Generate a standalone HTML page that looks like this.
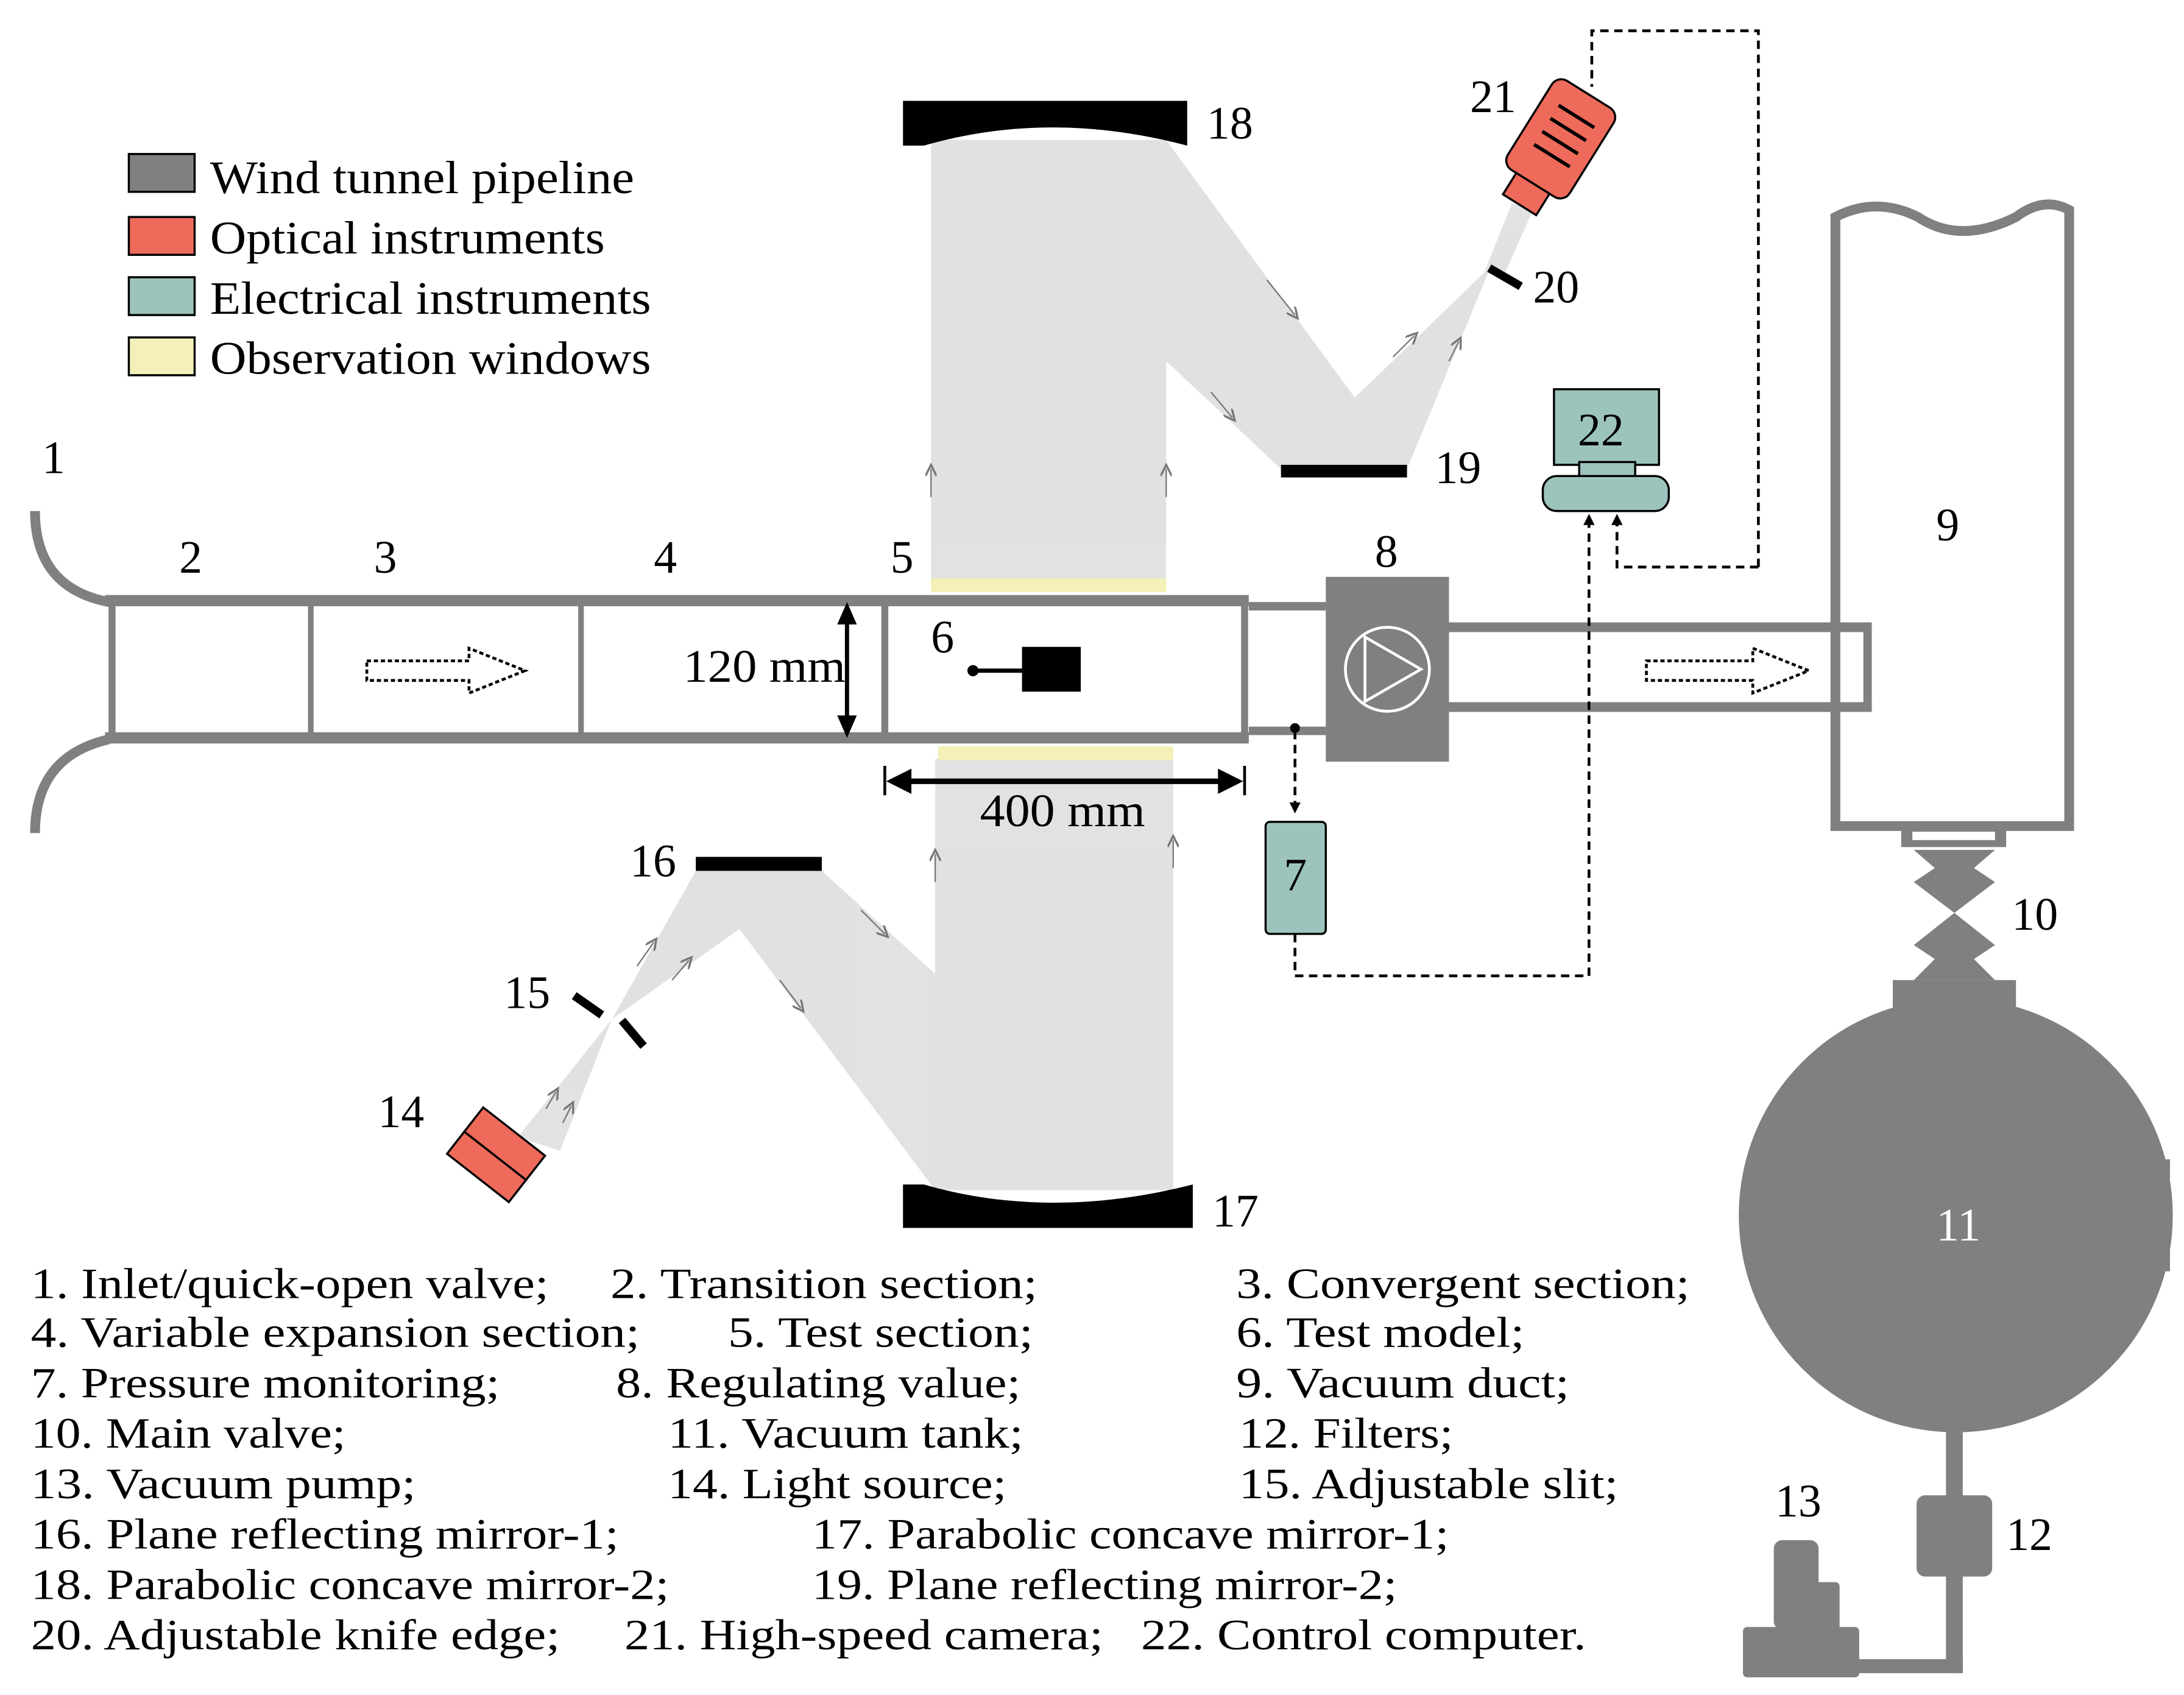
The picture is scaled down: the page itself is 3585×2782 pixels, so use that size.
<!DOCTYPE html>
<html><head><meta charset="utf-8"><style>html,body{margin:0;padding:0;background:#fff}svg{display:block}</style></head><body>
<svg width="3585" height="2782" viewBox="0 0 1560 1210.6" xmlns="http://www.w3.org/2000/svg" font-family="'Liberation Serif', serif">
<defs>
<marker id="ah" markerWidth="8" markerHeight="8" refX="7" refY="4" orient="auto" markerUnits="userSpaceOnUse"><path d="M0,0 L8,4 L0,8 z" fill="#000"/></marker>
<marker id="ga" markerWidth="10" markerHeight="8" refX="5" refY="4" orient="auto" markerUnits="userSpaceOnUse"><path d="M0,0 L8,4 L0,8" fill="none" stroke="#777" stroke-width="1.5"/></marker>
</defs>
<g fill="#d8d8d8" opacity="0.75">
<rect x="665" y="100" width="168" height="315"/>
<polygon points="665,100 833,100 1005,335 915,335"/>
<polygon points="915,335 1005,335 1065,190"/>
<polygon points="1060,195 1075,195 1095,150 1080,145"/>
<rect x="668" y="542" width="170" height="308"/>
<polygon points="497,622 587,622 838,850 668,850"/>
<polygon points="437,728 497,622 587,622"/>
<polygon points="437,728 370,812 400,822"/>
</g>
<g stroke="#777" stroke-width="1" marker-end="url(#ga)">
<line x1="665" y1="355" x2="665" y2="335"/><line x1="833" y1="355" x2="833" y2="335"/>
<line x1="668" y1="630" x2="668" y2="610"/><line x1="838" y1="620" x2="838" y2="600"/>
<line x1="905" y1="200" x2="925" y2="225"/><line x1="865" y1="280" x2="880" y2="298"/>
<line x1="995" y1="255" x2="1010" y2="240"/><line x1="1035" y1="258" x2="1042" y2="244"/>
<line x1="615" y1="650" x2="632" y2="667"/><line x1="557" y1="700" x2="572" y2="720"/>
<line x1="455" y1="690" x2="467" y2="673"/><line x1="480" y1="700" x2="492" y2="686"/>
<line x1="390" y1="792" x2="397" y2="780"/><line x1="402" y1="802" x2="408" y2="790"/>
</g>
<rect x="665" y="413" width="168" height="10" fill="#f3f0b8"/>
<rect x="670" y="533" width="168" height="10" fill="#f3f0b8"/>
<path d="M645,72 H848 V104 Q750,78 660,104 H645 Z" fill="#000"/>
<path d="M645,877 H852 V846 Q750,872 660,846 H645 Z" fill="#000"/>
<rect x="915" y="332" width="90" height="9" fill="#000"/>
<rect x="497" y="612" width="90" height="10" fill="#000"/>
<rect x="1062" y="195" width="26" height="6" fill="#000" transform="rotate(30 1075 198)"/>
<rect x="408" y="715" width="24" height="6" fill="#000" transform="rotate(35 420 718)"/>
<rect x="440" y="735" width="24" height="6" fill="#000" transform="rotate(50 452 738)"/>
<g transform="rotate(32 1110 105)" fill="#ee6a5a" stroke="#000" stroke-width="1.5">
<rect x="1085" y="60" width="52" height="75" rx="8"/>
<rect x="1097" y="135" width="28" height="18"/>
<g stroke="#000" stroke-width="2.5"><line x1="1097" y1="78" x2="1127" y2="78"/><line x1="1097" y1="89" x2="1127" y2="89"/><line x1="1097" y1="100" x2="1127" y2="100"/><line x1="1097" y1="111" x2="1127" y2="111"/></g>
</g>
<g transform="rotate(38 358 820)" fill="#ee6a5a" stroke="#000" stroke-width="1.5">
<rect x="330" y="805" width="56" height="22"/><rect x="330" y="827" width="56" height="20"/>
</g>
<rect x="92" y="110" width="47" height="27" fill="#808080" stroke="#000" stroke-width="1.5"/>
<rect x="92" y="155" width="47" height="27" fill="#ee6a5a" stroke="#000" stroke-width="1.5"/>
<rect x="92" y="198" width="47" height="27" fill="#9cc4bd" stroke="#000" stroke-width="1.5"/>
<rect x="92" y="241" width="47" height="27" fill="#f3f0b8" stroke="#000" stroke-width="1.5"/>
<g font-size="33" fill="#000" lengthAdjust="spacingAndGlyphs">
<text x="150" y="138" textLength="303" lengthAdjust="spacingAndGlyphs">Wind tunnel pipeline</text>
<text x="150" y="181" textLength="282" lengthAdjust="spacingAndGlyphs">Optical instruments</text>
<text x="150" y="224" textLength="315" lengthAdjust="spacingAndGlyphs">Electrical instruments</text>
<text x="150" y="267" textLength="315" lengthAdjust="spacingAndGlyphs">Observation windows</text>
</g>
<g fill="none" stroke="#808080">
<path d="M25,365 Q25,420 78,430" stroke-width="7"/>
<path d="M25,595 Q25,540 78,528" stroke-width="7"/>
<line x1="75" y1="429" x2="892" y2="429" stroke-width="8"/>
<line x1="75" y1="527" x2="892" y2="527" stroke-width="8"/>
<line x1="80" y1="429" x2="80" y2="527" stroke-width="5"/>
<line x1="222" y1="429" x2="222" y2="527" stroke-width="4"/>
<line x1="415" y1="429" x2="415" y2="527" stroke-width="4"/>
<line x1="632" y1="429" x2="632" y2="527" stroke-width="5"/>
<line x1="889" y1="429" x2="889" y2="527" stroke-width="5"/>
<line x1="892" y1="433" x2="947" y2="433" stroke-width="6"/>
<line x1="892" y1="522" x2="947" y2="522" stroke-width="6"/>
<line x1="1035" y1="448" x2="1337" y2="448" stroke-width="7"/>
<line x1="1035" y1="505" x2="1337" y2="505" stroke-width="7"/>
<line x1="1334" y1="445" x2="1334" y2="508" stroke-width="6"/>
<path d="M1311,448 V590 H1478 V150 Q1460,140 1440,155 Q1400,175 1370,155 Q1340,140 1311,155 V448" stroke-width="7"/>
</g>
<rect x="947" y="412" width="88" height="132" fill="#808080"/>
<circle cx="991" cy="478" r="30" fill="none" stroke="#fff" stroke-width="2"/>
<path d="M975,455 L1015,478 L975,501 Z" fill="none" stroke="#fff" stroke-width="2"/>
<path d="M262,472 H335 V463 L375,479 L335,495 V486 H262 Z" fill="none" stroke="#000" stroke-width="2" stroke-dasharray="3,2"/>
<path d="M1176,472 H1252 V463 L1292,479 L1252,495 V486 H1176 Z" fill="none" stroke="#000" stroke-width="2" stroke-dasharray="3,2"/>
<rect x="730" y="462" width="42" height="32" fill="#000"/>
<line x1="695" y1="479" x2="730" y2="479" stroke="#000" stroke-width="3"/>
<circle cx="695" cy="479" r="4" fill="#000"/>
<line x1="605" y1="440" x2="605" y2="517" stroke="#000" stroke-width="3"/>
<path d="M605,430 l-7,16 h14 z M605,527 l-7,-16 h14 z" fill="#000"/>
<line x1="632" y1="547" x2="632" y2="568" stroke="#000" stroke-width="2"/>
<line x1="889" y1="547" x2="889" y2="568" stroke="#000" stroke-width="2"/>
<line x1="645" y1="558" x2="876" y2="558" stroke="#000" stroke-width="4"/>
<path d="M633,558 l18,-9 v18 z M888,558 l-18,-9 v18 z" fill="#000"/>
<rect x="1358" y="590" width="75" height="15" fill="#808080"/>
<rect x="1366" y="594" width="59" height="6" fill="#fff"/>
<path d="M1367,607 H1425 L1410,620 L1425,630 L1396,652 L1425,675 L1410,685 L1425,700 H1367 L1382,685 L1367,675 L1396,652 L1367,630 L1382,620 Z" fill="#808080"/>
<rect x="1352" y="700" width="88" height="22" fill="#808080"/>
<circle cx="1397" cy="868" r="155" fill="#808080"/>
<rect x="1538" y="828" width="12" height="80" fill="#808080"/>
<rect x="1390" y="1020" width="12" height="175" fill="#808080"/>
<rect x="1325" y="1185" width="77" height="10" fill="#808080"/>
<rect x="1369" y="1068" width="54" height="58" rx="6" fill="#808080"/>
<rect x="1245" y="1162" width="83" height="36" rx="3" fill="#808080"/>
<rect x="1267" y="1100" width="32" height="64" rx="6" fill="#808080"/>
<rect x="1296" y="1130" width="18" height="34" rx="3" fill="#808080"/>
<rect x="1110" y="278" width="75" height="54" fill="#9cc4bd" stroke="#000" stroke-width="1.5"/>
<rect x="1128" y="330" width="40" height="12" fill="#9cc4bd" stroke="#000" stroke-width="1.5"/>
<rect x="1102" y="340" width="90" height="25" rx="10" fill="#9cc4bd" stroke="#000" stroke-width="1.5"/>
<rect x="904" y="587" width="43" height="80" rx="3" fill="#9cc4bd" stroke="#000" stroke-width="1.5"/>
<g fill="none" stroke="#000" stroke-width="2" stroke-dasharray="6,4">
<path d="M925,522 V580" marker-end="url(#ah)"/>
<path d="M925,667 V697 H1135 V368" marker-end="url(#ah)"/>
<path d="M1256,405 H1155 V368" marker-end="url(#ah)"/>
<path d="M1256,405 V22 H1137 V62"/>
</g>
<circle cx="925" cy="520" r="3.5" fill="#000"/>
<g font-size="33" fill="#000">
<text x="30" y="338">1</text><text x="128" y="409">2</text><text x="267" y="409">3</text><text x="467" y="409">4</text><text x="636" y="409">5</text>
<text x="665" y="466">6</text><text x="488" y="487" textLength="116" lengthAdjust="spacingAndGlyphs">120 mm</text><text x="700" y="590" textLength="118" lengthAdjust="spacingAndGlyphs">400 mm</text>
<text x="917" y="636">7</text><text x="982" y="405">8</text><text x="1383" y="386">9</text>
<text x="1437" y="664">10</text><text x="1433" y="1107">12</text><text x="1268" y="1083">13</text>
<text x="270" y="805">14</text><text x="360" y="720">15</text><text x="450" y="626">16</text>
<text x="866" y="876">17</text><text x="862" y="99">18</text><text x="1025" y="345">19</text>
<text x="1095" y="216">20</text><text x="1050" y="80">21</text><text x="1127" y="318">22</text>
<text x="1383" y="886" fill="#fff">11</text>
</g>
<g font-size="31" fill="#000">
<text x="22" y="927" textLength="370" lengthAdjust="spacingAndGlyphs">1. Inlet/quick-open valve;</text><text x="436" y="927" textLength="305" lengthAdjust="spacingAndGlyphs">2. Transition section;</text><text x="883" y="927" textLength="324" lengthAdjust="spacingAndGlyphs">3. Convergent section;</text>
<text x="22" y="962" textLength="435" lengthAdjust="spacingAndGlyphs">4. Variable expansion section;</text><text x="520" y="962" textLength="218" lengthAdjust="spacingAndGlyphs">5. Test section;</text><text x="883" y="962" textLength="206" lengthAdjust="spacingAndGlyphs">6. Test model;</text>
<text x="22" y="998" textLength="335" lengthAdjust="spacingAndGlyphs">7. Pressure monitoring;</text><text x="440" y="998" textLength="289" lengthAdjust="spacingAndGlyphs">8. Regulating value;</text><text x="883" y="998" textLength="238" lengthAdjust="spacingAndGlyphs">9. Vacuum duct;</text>
<text x="22" y="1034" textLength="225" lengthAdjust="spacingAndGlyphs">10. Main valve;</text><text x="477" y="1034" textLength="254" lengthAdjust="spacingAndGlyphs">11. Vacuum tank;</text><text x="885" y="1034" textLength="153" lengthAdjust="spacingAndGlyphs">12. Filters;</text>
<text x="22" y="1070" textLength="275" lengthAdjust="spacingAndGlyphs">13. Vacuum pump;</text><text x="477" y="1070" textLength="242" lengthAdjust="spacingAndGlyphs">14. Light source;</text><text x="885" y="1070" textLength="271" lengthAdjust="spacingAndGlyphs">15. Adjustable slit;</text>
<text x="22" y="1106" textLength="420" lengthAdjust="spacingAndGlyphs">16. Plane reflecting mirror-1;</text><text x="580" y="1106" textLength="455" lengthAdjust="spacingAndGlyphs">17. Parabolic concave mirror-1;</text>
<text x="22" y="1142" textLength="456" lengthAdjust="spacingAndGlyphs">18. Parabolic concave mirror-2;</text><text x="580" y="1142" textLength="418" lengthAdjust="spacingAndGlyphs">19. Plane reflecting mirror-2;</text>
<text x="22" y="1178" textLength="378" lengthAdjust="spacingAndGlyphs">20. Adjustable knife edge;</text><text x="446" y="1178" textLength="342" lengthAdjust="spacingAndGlyphs">21. High-speed camera;</text><text x="815" y="1178" textLength="318" lengthAdjust="spacingAndGlyphs">22. Control computer.</text>
</g>
</svg>
</body></html>
